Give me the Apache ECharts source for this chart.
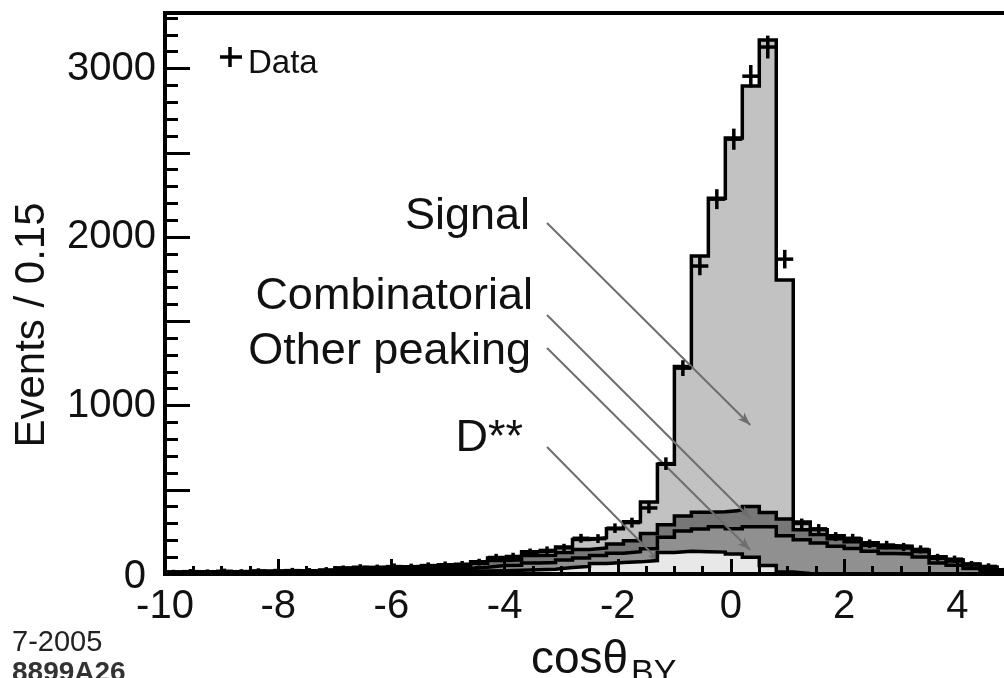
<!DOCTYPE html>
<html><head><meta charset="utf-8">
<script src="https://cdn.jsdelivr.net/npm/echarts@6/dist/echarts.min.js"></script>
<style>html,body{margin:0;padding:0;background:#fff}#c{width:1004px;height:678px}</style>
</head><body><div id="c"></div>
<script>
// Bin edges (cosθ_BY), 51 edges -> 50 bins
const binEdges = [-10,-9.7,-9.4,-9.1,-8.8,-8.5,-8.2,-7.9,-7.6,-7.3,-7,-6.7,-6.4,-6.1,-5.8,-5.5,-5.2,-4.9,-4.6,-4.3,-4,-3.7,-3.4,-3.1,-2.8,-2.5,-2.2,-1.9,-1.6,-1.3,-1,-0.7,-0.4,-0.1,0.2,0.5,0.8,1.1,1.4,1.7,2,2.3,2.6,2.9,3.2,3.5,3.8,4.1,4.4,4.7,5];

// Stacked components (events per bin), bottom -> top
const dstar = [3,3,4,4,4,5,5,5,6,6, 10,11,12,12,13,14,15,16,18,20, 22,25,28,38,45,62,68,72,80,128, 135,132,130,118,100,50,12,3,2,2, 1,1,1,1,1,0,0,0,0,0];
const otherPeaking = [4,4,4,4,5,5,5,6,6,7, 11,12,12,13,14,15,16,17,22,30, 30,40,40,45,50,48,55,60,70,90, 120,135,150,150,180,230,215,200,182,162, 150,134,120,118,100,66,52,32,19,9];
const combinatorial = [4,4,5,5,5,5,6,6,6,7, 11,12,13,13,14,15,16,17,24,30, 32,45,43,45,50,45,55,65,90,75, 90,100,90,110,120,85,100,60,50,45, 40,36,35,35,32,28,25,22,18,12];
const signal = [1,1,1,1,1,1,2,1,2,2, 3,3,3,4,4,4,5,5,8,15, 16,22,25,32,60,60,90,113,188,359, 887,1520,1861,2210,2496,2804,1418,46,28,18, 17,14,11,11,9,8,7,6,5,4];
const dataCounts = [10,14,12,16,13,18,15,20,19,24, 33,40,38,44,43,50,55,58,70,98, 104,128,140,155,212,210,272,305,392,655, 1222,1828,2225,2581,2955,3128,1869,300,268,222, 212,180,172,160,146,98,88,58,45,22];

const componentNames = ['Signal','Combinatorial','Other peaking','D**'];
// annotation arrows in data coordinates: [label, start, end]
const arrows = [
  ['Signal', [-3.25, 2083], [0.34, 884]],
  ['Combinatorial', [-3.25, 1537], [0.34, 332]],
  ['Other peaking', [-3.25, 1341], [0.34, 142]],
  ['D**', [-3.25, 754], [-1.25, 71]]
];

const FONT = 'Liberation Sans, Arial, Helvetica, sans-serif';

// cumulative stacks (ROOT THStack style: each filled from 0)
function cum(arrs){ return dstar.map((_,i)=>arrs.reduce((s,a)=>s+a[i],0)); }
const cumD = cum([dstar]);
const cumO = cum([dstar, otherPeaking]);
const cumC = cum([dstar, otherPeaking, combinatorial]);
const cumS = cum([dstar, otherPeaking, combinatorial, signal]);
function stepData(arr){ return binEdges.map((e,i)=>[e, arr[Math.min(i, arr.length-1)]]); }

function histSeries(name, arr, fill, z){
  return {
    name, type:'line', step:'end', data: stepData(arr), symbol:'none', z,
    xAxisIndex:0, yAxisIndex:0,
    lineStyle:{color:'#000', width:3.5, join:'miter'},
    areaStyle:{color:fill, opacity:1, origin:'start'},
    silent:true
  };
}

const crossData = dataCounts.map((n,i)=>[binEdges[i], binEdges[i+1], n]);

const chart = echarts.init(document.getElementById('c'), null, {renderer:'canvas'});
chart.setOption({
  animation:false,
  backgroundColor:'#fff',
  grid:{left:165, top:13, width:860.3, height:561, show:true, borderColor:'#000', borderWidth:4, backgroundColor:'transparent', containLabel:false, outerBoundsMode:'none'},
  xAxis:[
    {type:'value', min:-10, max:5.2, interval:2, position:'bottom', z:10,
     axisLine:{show:true, onZero:false, lineStyle:{color:'#000', width:4}},
     axisTick:{show:true, inside:true, length:15, lineStyle:{color:'#000', width:3}},
     axisLabel:{fontSize:40, fontFamily:FONT, color:'#111', margin:13,
       formatter:v=> (Math.abs(v%2)<1e-9 && v<=4.01) ? String(v) : ''},
     splitLine:{show:false}},
    {type:'value', min:-10, max:5.2, interval:0.5, position:'bottom', z:9,
     axisLine:{show:false, onZero:false},
     axisTick:{show:true, inside:true, length:8, lineStyle:{color:'#000', width:3}},
     axisLabel:{show:false}, splitLine:{show:false}}
  ],
  yAxis:[
    {type:'value', min:0, max:3330, interval:500, position:'left', z:10,
     axisLine:{show:true, onZero:false, lineStyle:{color:'#000', width:4}},
     axisTick:{show:true, inside:true, length:25, lineStyle:{color:'#000', width:3}},
     axisLabel:{fontSize:40, fontFamily:FONT, color:'#111', margin:9,
       formatter:v=> v===0 ? '{z|0}' : (v%1000===0 ? String(v) : ''),
       rich:{z:{fontSize:40, fontFamily:FONT, color:'#111', padding:[6,10,0,0]}}},
     splitLine:{show:false}},
    {type:'value', min:0, max:3330, interval:100, position:'left', z:9,
     axisLine:{show:false, onZero:false},
     axisTick:{show:true, inside:true, length:13, lineStyle:{color:'#000', width:3}},
     axisLabel:{show:false}, splitLine:{show:false}}
  ],
  series:[
    histSeries(componentNames[0], cumS, '#c2c2c2', 2),
    histSeries(componentNames[1], cumC, '#777777', 3),
    histSeries(componentNames[2], cumO, '#909090', 4),
    histSeries(componentNames[3], cumD, '#e8e8e8', 5),
    {
      name:'Data', type:'custom', xAxisIndex:0, yAxisIndex:0, z:6, silent:true,
      dimensions:['lo','hi','n'], encode:{x:[0,1], y:2},
      data: crossData,
      renderItem:(params, api)=>{
        const lo=api.value(0), hi=api.value(1), n=api.value(2);
        const e=Math.sqrt(n), mid=(lo+hi)/2;
        const a=api.coord([lo,n]), b=api.coord([hi,n]);
        const c=api.coord([mid,n+e]), d=api.coord([mid,n-e]);
        return {type:'group', children:[
          {type:'line', shape:{x1:a[0],y1:a[1],x2:b[0],y2:b[1]}, style:{stroke:'#000', lineWidth:3.5}},
          {type:'line', shape:{x1:c[0],y1:c[1]-2,x2:d[0],y2:d[1]+2}, style:{stroke:'#000', lineWidth:3.5}}
        ]};
      }
    },
    {
      name:'arrows', type:'line', data:[], xAxisIndex:0, yAxisIndex:0, z:7, silent:true,
      markLine:{
        silent:true, animation:false, symbol:['none','arrow'], symbolSize:[7,13],
        label:{show:false},
        lineStyle:{color:'#6e6e6e', width:2, type:'solid'},
        emphasis:{disabled:true},
        data: arrows.map(a=>[{coord:a[1]},{coord:a[2]}])
      }
    }
  ],
  graphic:[
    // legend
    {type:'line', shape:{x1:220,y1:57,x2:242,y2:57}, style:{stroke:'#000', lineWidth:3.5}, z:20},
    {type:'line', shape:{x1:230,y1:47,x2:230,y2:67}, style:{stroke:'#000', lineWidth:3.5}, z:20},
    {type:'text', x:248, y:64, style:{text:'Data', font:'33px '+FONT, fill:'#111', align:'left', verticalAlign:'middle'}, z:20},
    // annotation labels
    {type:'text', x:530, y:217, style:{text:'Signal', font:'45px '+FONT, fill:'#111', align:'right', verticalAlign:'middle'}, z:20},
    {type:'text', x:533, y:297, style:{text:'Combinatorial', font:'45px '+FONT, fill:'#111', align:'right', verticalAlign:'middle'}, z:20},
    {type:'text', x:531, y:352, style:{text:'Other peaking', font:'45px '+FONT, fill:'#111', align:'right', verticalAlign:'middle'}, z:20},
    {type:'text', x:523, y:439, style:{text:'D**', font:'45px '+FONT, fill:'#111', align:'right', verticalAlign:'middle'}, z:20},
    // axis titles
    {type:'text', x:32, y:325, rotation:Math.PI/2, style:{text:'Events / 0.15', font:'42px '+FONT, fill:'#111', align:'center', verticalAlign:'middle'}, z:20},
    {type:'text', x:531, y:660, style:{text:'cosθ', font:'46px '+FONT, fill:'#111', align:'left', verticalAlign:'middle'}, z:20},
    {type:'text', x:631, y:674, style:{text:'BY', font:'34px '+FONT, fill:'#111', align:'left', verticalAlign:'middle'}, z:20},
    // plot id
    {type:'text', x:12, y:643, style:{text:'7-2005', font:'29px '+FONT, fill:'#222', align:'left', verticalAlign:'middle'}, z:20},
    {type:'text', x:12, y:673, style:{text:'8899A26', font:'bold 28px '+FONT, fill:'#333', align:'left', verticalAlign:'middle'}, z:20}
  ]
});
</script>
</body></html>
